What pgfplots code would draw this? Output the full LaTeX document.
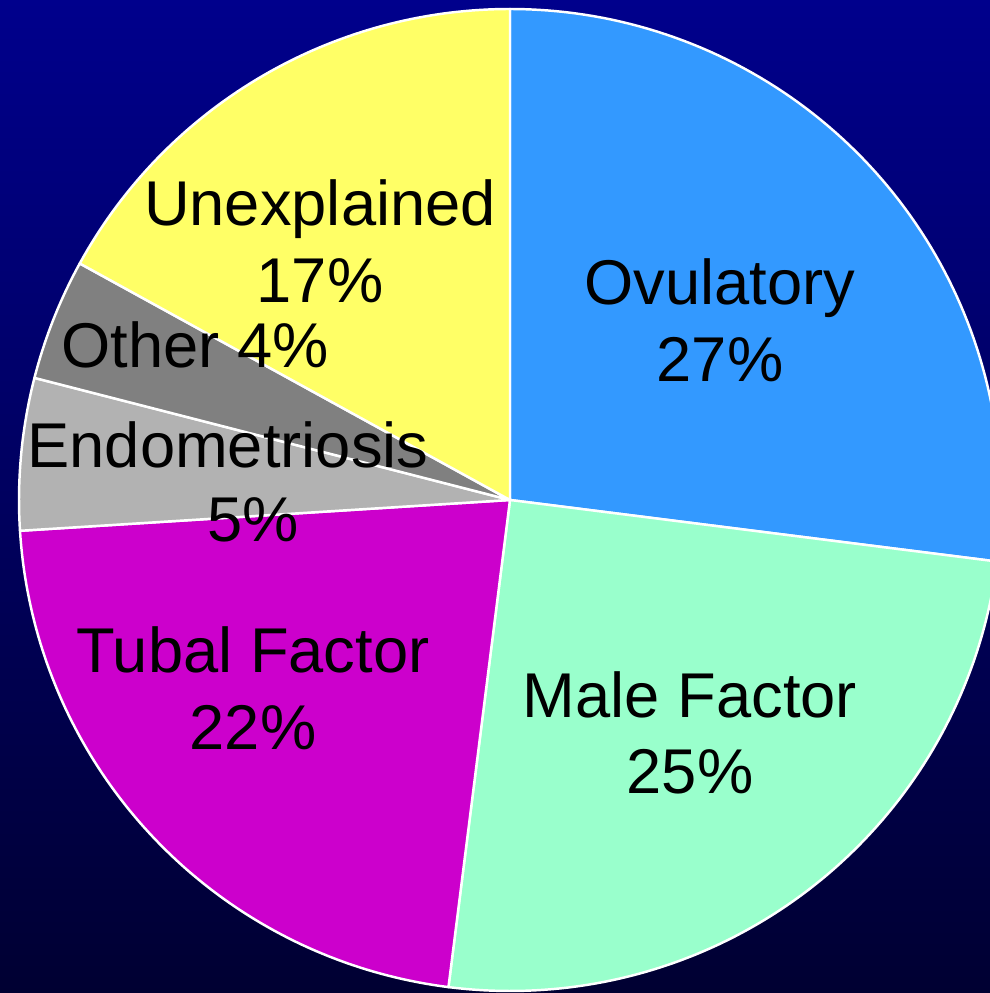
\documentclass[border=0pt]{standalone}
\usepackage{pgfplots}
\pgfplotsset{compat=1.18}
\usepackage{fontspec}
\setmainfont{Liberation Sans}
\definecolor{bgtop}{RGB}{0,0,140}
\definecolor{bgbot}{RGB}{0,0,50}
\definecolor{ovul}{RGB}{51,153,255}
\definecolor{male}{RGB}{153,255,204}
\definecolor{tubal}{RGB}{204,0,204}
\definecolor{endo}{RGB}{178,178,178}
\definecolor{other}{RGB}{128,128,128}
\definecolor{unexp}{RGB}{255,255,102}
% shares in percent, clockwise from 12 o'clock
\def\vOvul{27}
\def\vMale{25}
\def\vTubal{22}
\def\vEndo{5}
\def\vOther{4}
\def\vUnexp{17}
\pgfmathsetmacro{\aA}{90}
\pgfmathsetmacro{\aB}{\aA-3.6*\vOvul}
\pgfmathsetmacro{\aC}{\aB-3.6*\vMale}
\pgfmathsetmacro{\aD}{\aC-3.6*\vTubal}
\pgfmathsetmacro{\aE}{\aD-3.6*\vEndo}
\pgfmathsetmacro{\aF}{\aE-3.6*\vOther}
\pgfmathsetmacro{\aG}{\aF-3.6*\vUnexp}
\def\cx{510}
\def\cy{493}
\def\rr{491}
\tikzset{
  wedge/.style={draw=white, line width=0.7pt, line join=round},
  lbl/.style={align=center, text=black, font=\fontsize{18}{21.8}\selectfont},
}
\begin{document}
\begin{tikzpicture}
\begin{axis}[
  scale only axis, width=9.9cm, height=9.93cm,
  xmin=0, xmax=990, ymin=0, ymax=993,
  axis line style={draw=none}, ticks=none,
  axis background/.style={top color=bgtop, bottom color=bgbot},
  clip=true,
]
\addplot[wedge, fill=ovul, samples=90, variable=\t, domain=\aB:\aA] ({\cx+\rr*cos(\t)},{\cy+\rr*sin(\t)}) -- (axis cs:\cx,\cy) -- cycle;
\addplot[wedge, fill=male, samples=90, variable=\t, domain=\aC:\aB] ({\cx+\rr*cos(\t)},{\cy+\rr*sin(\t)}) -- (axis cs:\cx,\cy) -- cycle;
\addplot[wedge, fill=tubal, samples=90, variable=\t, domain=\aD:\aC] ({\cx+\rr*cos(\t)},{\cy+\rr*sin(\t)}) -- (axis cs:\cx,\cy) -- cycle;
\addplot[wedge, fill=endo, samples=30, variable=\t, domain=\aE:\aD] ({\cx+\rr*cos(\t)},{\cy+\rr*sin(\t)}) -- (axis cs:\cx,\cy) -- cycle;
\addplot[wedge, fill=other, samples=30, variable=\t, domain=\aF:\aE] ({\cx+\rr*cos(\t)},{\cy+\rr*sin(\t)}) -- (axis cs:\cx,\cy) -- cycle;
\addplot[wedge, fill=unexp, samples=70, variable=\t, domain=\aG:\aF] ({\cx+\rr*cos(\t)},{\cy+\rr*sin(\t)}) -- (axis cs:\cx,\cy) -- cycle;
\node[lbl] at (axis cs:720,673) {Ovulatory\\27\%};
\node[lbl] at (axis cs:690,260) {Male Factor\\25\%};
\node[lbl] at (axis cs:253,305) {Tubal Factor\\22\%};
\node[lbl] at (axis cs:228,548) {Endometriosis};
\node[lbl] at (axis cs:253,473) {5\%};
\node[lbl] at (axis cs:195,648) {Other 4\%};
\node[lbl] at (axis cs:320,752) {Unexplained\\17\%};
\end{axis}
\pgfresetboundingbox
\path (current axis.south west) rectangle (current axis.north east);
\end{tikzpicture}
\end{document}
